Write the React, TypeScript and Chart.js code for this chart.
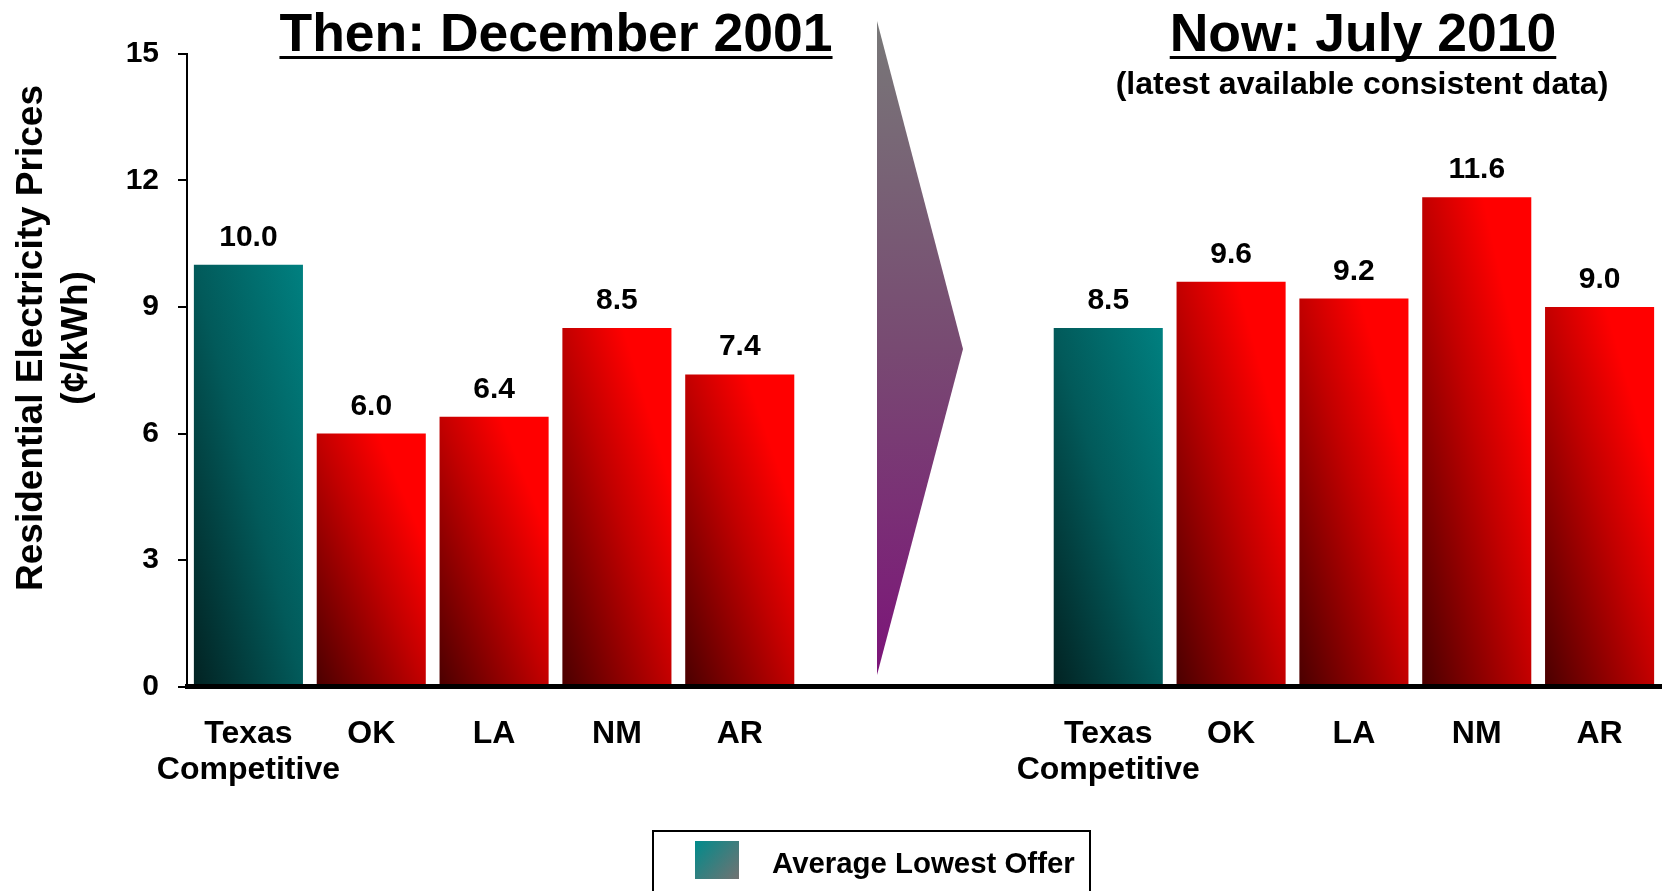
import React, { useEffect, useRef } from 'react';
import { Chart, registerables } from 'chart.js';

Chart.register(...registerables);

// ---------- data ----------
const thenCategories: (string | string[])[] = [['Texas', 'Competitive'], 'OK', 'LA', 'NM', 'AR'];
const nowCategories: (string | string[])[] = [['Texas', 'Competitive'], 'OK', 'LA', 'NM', 'AR'];
const thenValues = [10.0, 6.0, 6.4, 8.5, 7.4];
const nowValues = [8.5, 9.6, 9.2, 11.6, 9.0];
const gapSlots = 2;
const yTickValues = [0, 3, 6, 9, 12, 15];
const thenTitle = 'Then: December 2001';
const nowTitle = 'Now: July 2010';
const nowSubtitle = '(latest available consistent data)';
const yTitleLines = ['Residential Electricity Prices', '(¢/kWh)'];
const legendLabel = 'Average Lowest Offer';

// ---------- derived ----------
const labels = [...thenCategories, ...Array(gapSlots).fill(''), ...nowCategories];
const values: (number | null)[] = [...thenValues, ...Array(gapSlots).fill(null), ...nowValues];
const isCompetitive = labels.map((l) => Array.isArray(l) && l.includes('Texas'));

const FONT = "'Liberation Sans', Arial, Helvetica, sans-serif";
const BAR_PCT = 0.888;

const RED_STOPS: [number, string][] = [[0, '#4a0000'], [0.5, '#c20000'], [0.78, '#ff0000'], [1, '#ff0000']];
const TEAL_STOPS: [number, string][] = [[0, '#022222'], [0.5, '#025a5a'], [1, '#008080']];

function barFill(c: any) {
  const chart = c.chart;
  const i = c.dataIndex;
  const solid = isCompetitive[i] ? '#016060' : '#c00000';
  if (i == null) return solid;
  const v = values[i];
  if (v == null) return 'rgba(0,0,0,0)';
  const xs = chart.scales?.x;
  const ys = chart.scales?.y;
  if (!xs || !ys || !chart.chartArea) return solid;
  const pitch = (xs.right - xs.left) / labels.length;
  const w = pitch * BAR_PCT;
  const x0 = xs.getPixelForValue(i) - w / 2;
  const yb = ys.getPixelForValue(0);
  const yt = ys.getPixelForValue(v);
  const h = yb - yt;
  if (![w, x0, yb, yt, h].every((n) => Number.isFinite(n)) || w <= 0 || h <= 0) return solid;
  const s = (2 * w * h) / (w * w + h * h);
  const g = chart.ctx.createLinearGradient(x0, yb, x0 + h * s, yb - w * s);
  (isCompetitive[i] ? TEAL_STOPS : RED_STOPS).forEach(([o, col]) => g.addColorStop(o, col));
  return g;
}

const decorPlugin = {
  id: 'decor',
  beforeDatasetsDraw(chart: any) {
    const ctx = chart.ctx as CanvasRenderingContext2D;
    // transition arrow between the two periods
    ctx.save();
    const g = ctx.createLinearGradient(0, 21, 0, 675);
    g.addColorStop(0, '#787878');
    g.addColorStop(0.5, '#784a72');
    g.addColorStop(1, '#7c1479');
    ctx.fillStyle = g;
    ctx.beginPath();
    ctx.moveTo(877, 21);
    ctx.lineTo(963, 349);
    ctx.lineTo(877, 675);
    ctx.closePath();
    ctx.fill();
    ctx.restore();
  },
  afterDraw(chart: any) {
    const ctx = chart.ctx as CanvasRenderingContext2D;
    ctx.save();
    ctx.fillStyle = '#000';

    // value labels
    const meta = chart.getDatasetMeta(0);
    ctx.font = `bold 30px ${FONT}`;
    ctx.textAlign = 'center';
    ctx.textBaseline = 'alphabetic';
    meta.data.forEach((el: any, i: number) => {
      const v = values[i];
      if (v == null) return;
      ctx.fillText(v.toFixed(1), el.x, el.y - 19);
    });

    // period titles (underlined)
    ctx.font = `bold 53.5px ${FONT}`;
    const drawTitle = (t: string, cx: number) => {
      ctx.fillText(t, cx, 51);
      const w = ctx.measureText(t).width;
      ctx.fillRect(cx - w / 2, 56, w, 3);
    };
    drawTitle(thenTitle, 556);
    drawTitle(nowTitle, 1363);
    ctx.font = `bold 32px ${FONT}`;
    ctx.fillText(nowSubtitle, 1362, 94);

    // y axis title
    ctx.font = `bold 37px ${FONT}`;
    ctx.textBaseline = 'middle';
    const yCenters = [32, 77];
    yTitleLines.forEach((line, k) => {
      ctx.save();
      ctx.translate(yCenters[k], 338);
      ctx.rotate(-Math.PI / 2);
      ctx.fillText(line, 0, 0);
      ctx.restore();
    });

    // legend box
    ctx.lineWidth = 2;
    ctx.strokeStyle = '#000';
    ctx.strokeRect(653, 831, 437, 80);
    const sg = ctx.createLinearGradient(695, 841, 739, 879);
    sg.addColorStop(0, '#008b8b');
    sg.addColorStop(1, '#727272');
    ctx.fillStyle = sg;
    ctx.fillRect(695, 841, 44, 38);
    ctx.fillStyle = '#000';
    ctx.font = `bold 29.4px ${FONT}`;
    ctx.textAlign = 'left';
    ctx.textBaseline = 'alphabetic';
    ctx.fillText(legendLabel, 772, 873);

    ctx.restore();
  },
};

export default function App() {
  const ref = useRef<HTMLCanvasElement>(null);

  useEffect(() => {
    if (!ref.current) return;
    Chart.defaults.font.family = FONT;
    Chart.defaults.color = '#000';
    const chart = new Chart(ref.current, {
      type: 'bar',
      data: {
        labels,
        datasets: [
          {
            label: legendLabel,
            data: values,
            backgroundColor: barFill as any,
            borderWidth: 0,
            barPercentage: BAR_PCT,
            categoryPercentage: 1,
          },
        ],
      },
      options: {
        responsive: false,
        maintainAspectRatio: false,
        animation: false,
        events: [],
        layout: { padding: { top: 54, right: 11, bottom: 0, left: 0 } },
        plugins: {
          legend: { display: false },
          tooltip: { enabled: false },
          title: { display: false },
        },
        scales: {
          x: {
            type: 'category',
            offset: true,
            grid: { display: false, drawTicks: false },
            border: { display: true, color: '#000', width: 5, z: 1 },
            ticks: {
              autoSkip: false,
              maxRotation: 0,
              minRotation: 0,
              padding: 29,
              color: '#000',
              font: { size: 32, weight: 'bold', family: FONT, lineHeight: 1.14 },
            },
            afterFit: (s: any) => {
              s.height = 204.5;
            },
          },
          y: {
            min: 0,
            max: 15,
            afterBuildTicks: (s: any) => {
              s.ticks = yTickValues.map((v) => ({ value: v }));
            },
            ticks: {
              stepSize: 3,
              padding: 19,
              color: '#000',
              font: { size: 30, weight: 'bold', family: FONT },
            },
            grid: { drawOnChartArea: false, drawTicks: true, tickLength: 9, color: '#000', lineWidth: 2 },
            border: { display: true, color: '#000', width: 2 },
            afterFit: (s: any) => {
              s.width = 187;
            },
          },
        },
      } as any,
      plugins: [decorPlugin],
    });
    return () => chart.destroy();
  }, []);

  return (
    <div style={{ position: 'absolute', left: 0, top: 0, width: 1672, height: 891, background: '#fff', overflow: 'hidden' }}>
      <canvas ref={ref} width={1672} height={891} style={{ display: 'block', width: 1672, height: 891 }} />
    </div>
  );
}
